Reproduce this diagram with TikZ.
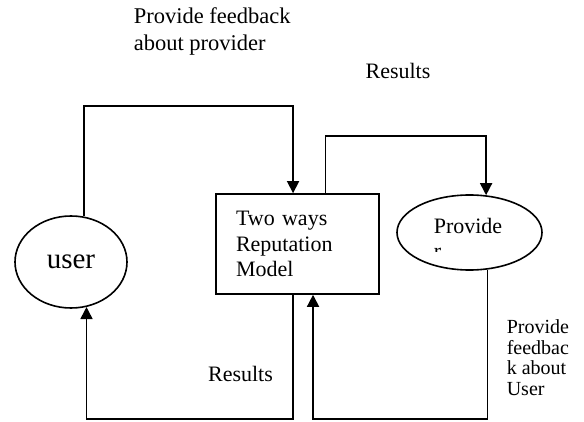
\documentclass[tikz,border=0pt]{standalone}
\usepackage{fontspec}
\setmainfont{Liberation Serif}
\usetikzlibrary{arrows.meta,shapes.geometric}
\tikzset{
  flow/.style={draw, -{Triangle[length=12pt,width=12pt]}},
  plain/.style={font=\fontsize{22}{25.5}\selectfont, inner sep=0pt, align=left},
}
\begin{document}
\begin{tikzpicture}[x=1pt,y=1pt,line width=1.6pt]
  \useasboundingbox (0,0) rectangle (584,421);
  % actors and model
  \node[draw, ellipse, minimum width=112pt, minimum height=92pt, inner sep=0pt,
    font=\fontsize{29}{32}\selectfont] (user) at (71,159) {user};
  \node[draw, rectangle, plain, minimum height=100pt, text width=123pt,
    inner xsep=20pt] (model) at (297.5,177) {Two ways\\Reputation\\Model};
  \node[draw, ellipse, minimum width=145pt, minimum height=75pt, inner sep=0pt]
    (provider) at (469.5,188.5) {};
  \begin{scope}
    \clip (430,169) rectangle (530,215);
    \node[plain, anchor=north west] (provtext) at (433,204) {Provide\\r};
  \end{scope}
  % labels
  \node[plain, anchor=west] (fbprov) at (133,389.5)
    [font=\fontsize{22.5}{27}\selectfont] {Provide feedback\\about provider};
  \node[plain] (restop) at (398,350) {Results};
  \node[plain] (resbot) at (240.5,47) {Results};
  \begin{scope}
    \clip (500,26) rectangle (584,110);
    \node[plain, font=\fontsize{20}{20.5}\selectfont, anchor=north west]
      (fbuser) at (506,102) {Provide\\feedbac\\k about\\User};
  \end{scope}
  % connectors
  \coordinate (topA) at (0,315);
  \coordinate (topB) at (0,285);
  \coordinate (floor) at (0,2);
  \draw[flow] (user.74) |- (topA -| model.95) -- (model.95);
  \draw[flow] (model.61) |- (topB -| provider.66) -- (provider.66);
  \draw[flow] (provider.-64) |- (floor -| model.-73) -- (model.-73);
  \draw[flow] (model.-95) |- (floor -| user.-71) -- (user.-71);
\end{tikzpicture}
\end{document}
